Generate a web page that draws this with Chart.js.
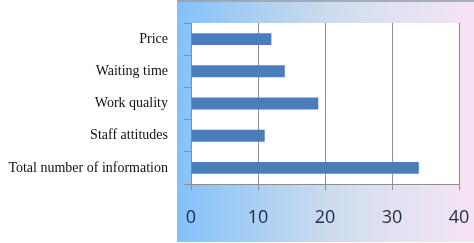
<!DOCTYPE html>
<html>
<head>
<meta charset="utf-8">
<script src="https://cdn.jsdelivr.net/npm/chart.js@4/dist/chart.umd.min.js"></script>
<style>
html,body{margin:0;padding:0;background:#fff;}
#wrap{width:474px;height:243px;position:relative;}
</style>
</head>
<body>
<div id="wrap"><canvas id="c" width="474" height="243"></canvas></div>
<script>
const categories = ["Price", "Waiting time", "Work quality", "Staff attitudes", "Total number of information"];
const values = [12, 14, 19, 11, 34];
const xTicks = [0, 10, 20, 30, 40];

const panelPlugin = {
  id: 'panel',
  beforeDraw(chart) {
    const ctx = chart.ctx;
    const x0 = 177, x1 = chart.width, y0 = 0, y1 = 242;
    const g = ctx.createLinearGradient(x0, 0, x1, 0);
    g.addColorStop(0, 'rgb(132,193,250)');
    g.addColorStop(0.12, 'rgb(148,200,247)');
    g.addColorStop(0.33, 'rgb(180,210,240)');
    g.addColorStop(0.5, 'rgb(203,219,238)');
    g.addColorStop(0.72, 'rgb(224,225,242)');
    g.addColorStop(1, 'rgb(246,228,245)');
    ctx.save();
    ctx.fillStyle = g;
    ctx.fillRect(x0, y0, x1 - x0, y1 - y0);
    ctx.fillStyle = 'rgba(150,160,175,0.8)';
    ctx.fillRect(x0, 0, x1 - x0, 2);
    const a = chart.chartArea;
    ctx.fillStyle = '#ffffff';
    ctx.fillRect(a.left, a.top, a.right - a.left, a.bottom - a.top);
    ctx.restore();
  },
  afterDatasetsDraw(chart) {
    const ctx = chart.ctx, a = chart.chartArea;
    ctx.save();
    ctx.strokeStyle = '#8e8e8e';
    ctx.lineWidth = 1;
    ctx.beginPath();
    ctx.moveTo(Math.round(a.right) + 0.5, a.top);
    ctx.lineTo(Math.round(a.right) + 0.5, a.bottom);
    ctx.stroke();
    ctx.restore();
  }
};

function build() {
  new Chart(document.getElementById('c'), {
    type: 'bar',
    data: {
      labels: categories,
      datasets: [{
        data: values,
        backgroundColor: '#4a7ebb',
        borderWidth: 0,
        categoryPercentage: 1,
        barPercentage: 0.37
      }]
    },
    options: {
      indexAxis: 'y',
      responsive: false,
      animation: false,
      events: [],
      layout: { padding: { left: 0, right: 15, top: 23, bottom: 0 } },
      plugins: { legend: { display: false }, tooltip: { enabled: false } },
      scales: {
        x: {
          min: 0, max: 40,
          afterBuildTicks(s) { s.ticks = xTicks.map(v => ({ value: v })); },
          afterFit(s) { s.height = 59; s.paddingLeft = 0; s.paddingRight = 0; },
          grid: { color: '#8e8e8e', lineWidth: 1, tickLength: 6, drawTicks: true },
          border: { color: '#8e8e8e' },
          ticks: {
            color: '#1d2b45',
            padding: 17,
            font: { family: "'Open Sans', sans-serif", size: 18 }
          }
        },
        y: {
          afterFit(s) { s.width = 191; s.paddingTop = 0; s.paddingBottom = 0; },
          grid: { drawOnChartArea: false, color: '#8e8e8e', tickLength: 7, offset: true },
          border: { color: '#8e8e8e' },
          ticks: {
            color: '#111111',
            padding: 16,
            font: { family: "'Liberation Serif', 'Times New Roman', serif", size: 14 }
          }
        }
      }
    },
    plugins: [panelPlugin]
  });
}

const loads = [
  document.fonts.load("14px 'Liberation Serif'"),
  document.fonts.load("18px 'Open Sans'")
];
Promise.race([Promise.all(loads), new Promise(r => setTimeout(r, 1500))]).then(build, build);
</script>
</body>
</html>
